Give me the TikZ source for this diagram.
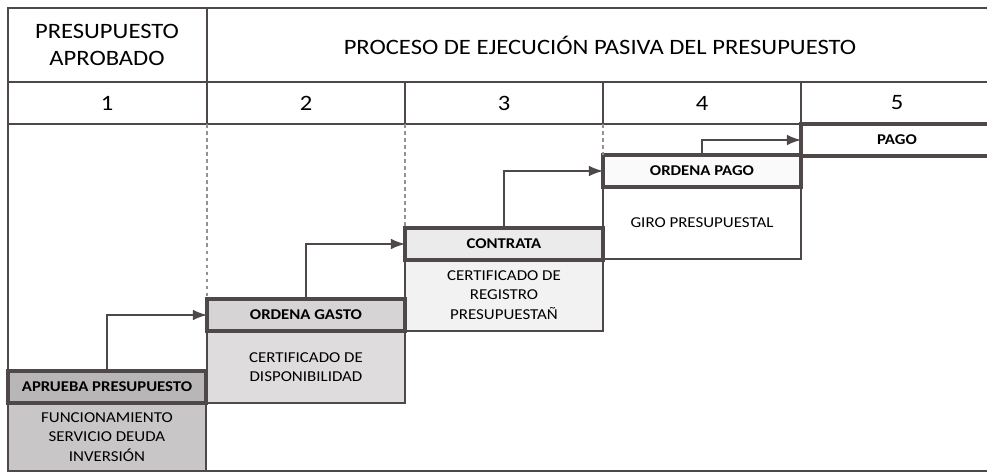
\documentclass[tikz,border=0pt]{standalone}
\usepackage{fontspec}
\setmainfont{Carlito}[FakeStretch=1.12]
\usetikzlibrary{arrows.meta}

\definecolor{linegray}{RGB}{78,72,72}
\definecolor{fillA}{RGB}{184,182,182}
\definecolor{fillAd}{RGB}{200,198,198}
\definecolor{fillB}{RGB}{214,212,212}
\definecolor{fillBd}{RGB}{222,220,220}
\definecolor{fillC}{RGB}{236,235,235}
\definecolor{fillCd}{RGB}{243,242,242}
\definecolor{fillD}{RGB}{250,250,250}

\begin{document}
\begin{tikzpicture}[x=0.02cm,y=-0.02cm,
    titlebox/.style={draw=linegray,line width=2pt,inner sep=0pt,outer sep=0pt,anchor=north west,
        minimum width=3.96cm,minimum height=0.64cm,font=\fontsize{8.5}{10}\selectfont\bfseries},
    descbox/.style={draw=linegray,line width=0.7pt,inner sep=0pt,outer sep=0pt,anchor=north west,
        minimum width=3.96cm,minimum height=1.44cm,align=center,font=\fontsize{8.6}{11.2}\selectfont},
    flow/.style={draw=linegray,line width=0.8pt,-{Latex[length=8pt,width=6pt]}},
    guide/.style={draw=linegray!60,dash pattern=on 2pt off 2pt,line width=0.6pt},
    head/.style={font=\fontsize{12.5}{15}\selectfont,align=center}]

    \useasboundingbox (0,0) rectangle (987,473);

    % cuadro y encabezados
    \draw[linegray,line width=1.1pt] (8,8) rectangle (995,471);
    \draw[linegray,line width=0.8pt] (8,82) -- (995,82);
    \draw[linegray,line width=0.8pt] (8,124) -- (995,124);
    \draw[linegray,line width=0.8pt] (207,8) -- (207,124);
    \foreach \x in {405,603,801}
        \draw[linegray,line width=0.8pt] (\x,82) -- (\x,124);

    \node[head] (aprobado) at (107,45) {PRESUPUESTO\\APROBADO};
    \node[head] (proceso) at (600,45) {PROCESO DE EJECUCIÓN PASIVA DEL PRESUPUESTO};
    \foreach \n/\x in {1/107,2/306,3/504,4/702,5/897}
        \node[head] (paso\n) at (\x,103) {\n};

    % descripciones
    \node[descbox,fill=fillAd,minimum height=1.36cm] (recursos) at (8,403)
        {FUNCIONAMIENTO\\SERVICIO DEUDA\\INVERSIÓN};
    \node[descbox,fill=fillBd] (cdp) at (207,331) {CERTIFICADO DE\\DISPONIBILIDAD};
    \node[descbox,fill=fillCd] (crp) at (405,259) {CERTIFICADO DE\\REGISTRO\\PRESUPUESTAÑ};
    \node[descbox,fill=white] (giro) at (603,187) {GIRO PRESUPUESTAL};

    % etapas
    \node[titlebox,fill=fillA] (aprueba) at (8,371) {APRUEBA PRESUPUESTO};
    \node[titlebox,fill=fillB] (gasto) at (207,299) {ORDENA GASTO};
    \node[titlebox,fill=fillC] (contrata) at (405,228) {CONTRATA};
    \node[titlebox,fill=fillD] (ordpago) at (603,155) {ORDENA PAGO};
    \node[titlebox,fill=white,minimum width=3.84cm] (pago) at (801,124) {PAGO};

    % lineas guia
    \draw[guide] (207,124) -- (gasto.north west);
    \draw[guide] (405,124) -- (contrata.north west);
    \draw[guide] (603,124) -- (ordpago.north west);

    % flechas
    \draw[flow] (aprueba.north) |- (gasto.west);
    \draw[flow] (gasto.north) |- (contrata.west);
    \draw[flow] (contrata.north) |- (ordpago.west);
    \draw[flow] (ordpago.north) |- (pago.west);

\end{tikzpicture}
\end{document}
